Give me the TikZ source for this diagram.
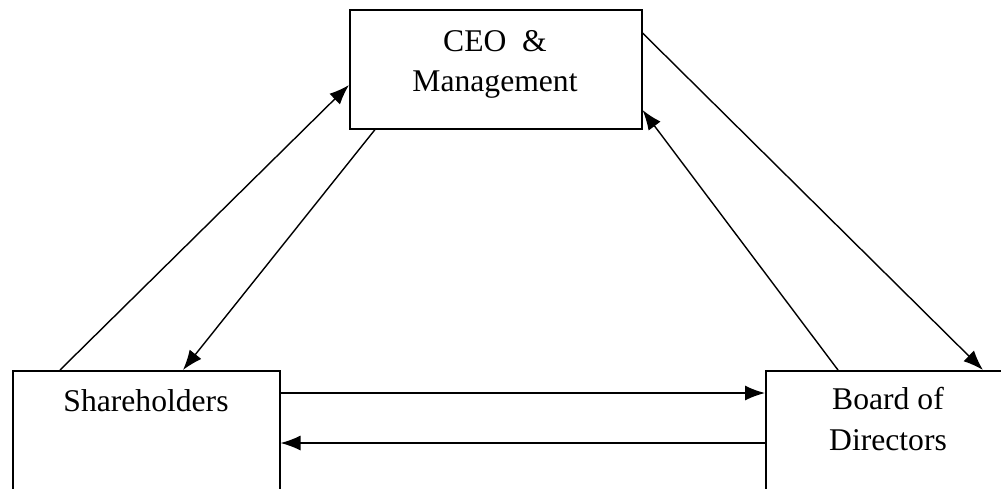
\documentclass[tikz,border=0pt]{standalone}
\usepackage{fontspec}
\setmainfont{Liberation Serif}
\usepackage{tikz}
\usetikzlibrary{arrows.meta}
\usetikzlibrary{positioning}
\usetikzlibrary{calc}

\begin{document}
\begin{tikzpicture}[
    x=0.02cm, y=-0.02cm,
    box/.style={draw, line width=0.9pt, rectangle, inner sep=0pt, anchor=north west},
    lbl/.style={align=center, inner sep=0pt, font=\fontsize{18}{22.8}\selectfont},
    arr/.style={line width=0.8pt, -{Latex[length=0.4cm, width=0.3cm]}}
]
    \clip (0,0) rectangle (1001,488);

    % the three parties
    \node[box, minimum width=5.84cm, minimum height=2.38cm] (ceo) at (349,9) {};
    \node[box, minimum width=5.34cm, minimum height=2.8cm] (sh) at (12,370) {};
    \node[box, minimum width=5.8cm, minimum height=2.8cm] (bd) at (765,370) {};

    \node[lbl] (ceotxt) at (495,64) {CEO\ \ \&\\Management};
    \node[lbl] (shtxt) at (146,401) {Shareholders};
    \node[lbl] (bdtxt) at (888,419) {Board of\\Directors};

    % relations
    \draw[arr] ($(sh.north west)+(48,0)$) -- ($(ceo.north west)+(0,76)$);
    \draw[arr] ($(ceo.south west)+(26,0)$) -- ($(sh.north west)+(171,0)$);
    \draw[arr] ($(ceo.north east)+(0,24)$) -- ($(bd.north west)+(218,0)$);
    \draw[arr] ($(bd.north west)+(73,0)$) -- ($(ceo.north east)+(0,101)$);
    \draw[arr] ($(sh.north east)+(0,23)$) -- ($(bd.north west)+(0,23)$);
    \draw[arr] ($(bd.north west)+(0,73)$) -- ($(sh.north east)+(0,73)$);

\end{tikzpicture}
\end{document}
